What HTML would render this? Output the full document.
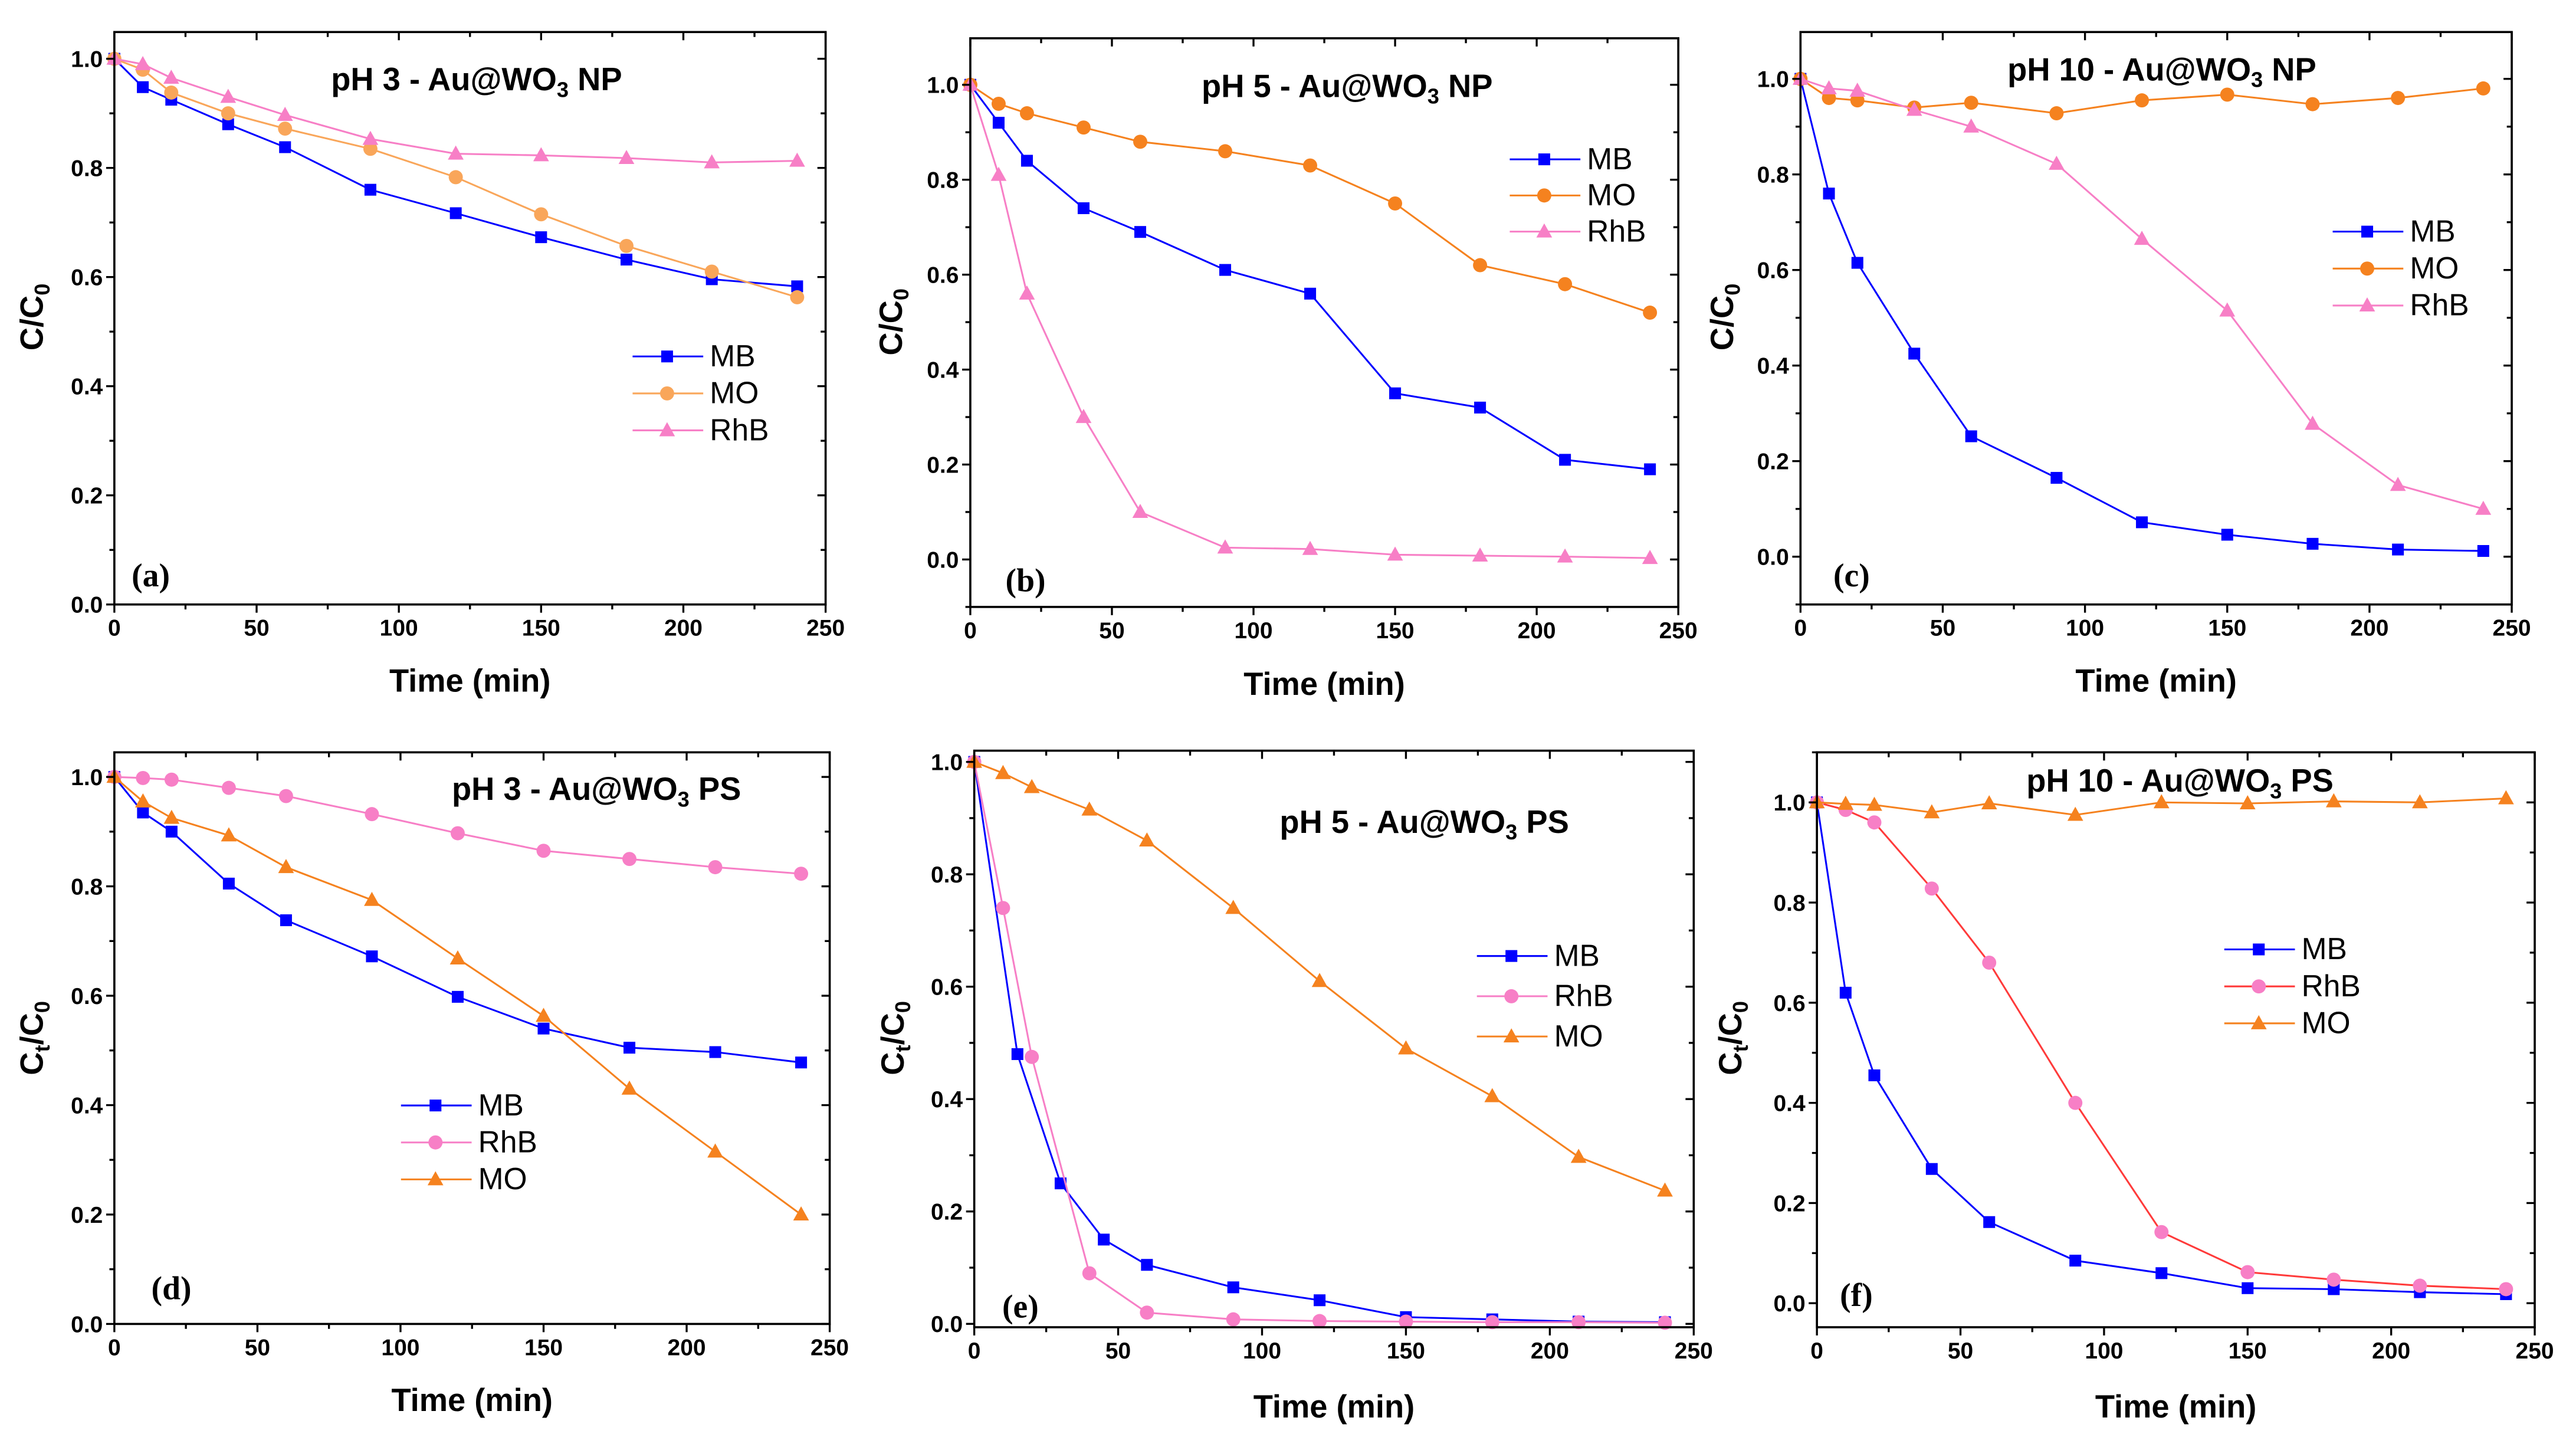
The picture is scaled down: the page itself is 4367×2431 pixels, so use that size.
<!DOCTYPE html>
<html><head><meta charset="utf-8"><style>
html,body{margin:0;padding:0;background:#fff;}
svg{display:block;}
</style></head><body>
<svg id="fig" xmlns="http://www.w3.org/2000/svg" width="4367" height="2431" viewBox="0 0 1568 873"></svg>
<script>
// ---- data ----
const timeStd = [0,10,20,40,60,90,120,150,180,210,240];
const timeMBe = [0,15,30,45,60,90,120,150,180,210,240];
const xTicks = [0,50,100,150,200,250];
const yTicks = [0.0,0.2,0.4,0.6,0.8,1.0];
const yTickLabels = ["0.0","0.2","0.4","0.6","0.8","1.0"];

const aMB  = [1,0.948,0.925,0.88,0.838,0.76,0.717,0.673,0.632,0.596,0.583];
const aMO  = [1,0.98,0.938,0.9,0.872,0.835,0.783,0.715,0.657,0.61,0.563];
const aRhB = [1,0.99,0.965,0.93,0.897,0.853,0.826,0.823,0.818,0.81,0.813];

const bMB  = [1,0.92,0.84,0.74,0.69,0.61,0.56,0.35,0.32,0.21,0.19];
const bMO  = [1,0.96,0.94,0.91,0.88,0.86,0.83,0.75,0.62,0.58,0.52];
const bRhB = [1,0.81,0.56,0.30,0.10,0.025,0.022,0.01,0.008,0.006,0.003];

const cMB  = [1,0.76,0.615,0.425,0.252,0.165,0.072,0.046,0.027,0.015,0.012];
const cMO  = [1,0.96,0.955,0.94,0.95,0.928,0.955,0.967,0.947,0.96,0.98];
const cRhB = [1,0.98,0.975,0.935,0.9,0.822,0.665,0.515,0.278,0.15,0.1];

const dMB  = [1,0.935,0.9,0.805,0.738,0.672,0.598,0.54,0.505,0.497,0.478];
const dRhB = [1,0.998,0.995,0.98,0.965,0.932,0.897,0.865,0.85,0.835,0.823];
const dMO  = [1,0.955,0.925,0.893,0.835,0.775,0.668,0.563,0.43,0.315,0.2];

const eMB  = [1,0.48,0.25,0.15,0.105,0.065,0.042,0.012,0.008,0.004,0.003];
const eRhB = [1,0.74,0.475,0.09,0.02,0.008,0.005,0.004,0.003,0.003,0.002];
const eMO  = [1,0.98,0.955,0.915,0.86,0.74,0.61,0.49,0.405,0.297,0.237];

const fMB  = [1,0.62,0.455,0.268,0.162,0.085,0.06,0.03,0.028,0.022,0.018];
const fRhB = [1,0.985,0.96,0.828,0.68,0.4,0.142,0.062,0.047,0.035,0.028];
const fMO  = [1,0.997,0.995,0.98,0.998,0.975,1.0,0.998,1.002,1.0,1.008];

const NS = "http://www.w3.org/2000/svg";
const svg = document.getElementById('fig');
function mk(tag, attrs, parent){const e=document.createElementNS(NS,tag);for(const k in attrs)e.setAttribute(k,attrs[k]);(parent||svg).appendChild(e);return e;}
const TF = '"Liberation Sans Narrow","Liberation Sans",sans-serif';

const BLUE="#0000ff", PINK="#f77fc6", ORANGE="#f5821f", LORANGE="#f9a65a", RED="#ff3a3a";

const panels = [
 {id:'a',L:69.5,R:502.5,T:19.5,B:368,ymin:0,ymax:1.049,title:'pH 3 - Au@WO',tsuf:' NP',tx:290,ty:55,lab:'(a)',lx:80,ly:357,ylab:'C/C',ylx:26,yly:193,xly:421,
  series:[{n:'MB',x:timeStd,y:aMB,c:BLUE,mc:BLUE,m:'sq'},{n:'MO',x:timeStd,y:aMO,c:LORANGE,mc:LORANGE,m:'ci'},{n:'RhB',x:timeStd,y:aRhB,c:PINK,mc:PINK,m:'tr'}],
  leg:{x:406,y:217,dy:22.5}},
 {id:'b',L:590.6,R:1021.6,T:23.3,B:369.5,ymin:-0.1,ymax:1.098,title:'pH 5 - Au@WO',tsuf:' NP',tx:820,ty:59,lab:'(b)',lx:612,ly:360,ylab:'C/C',ylx:549,yly:196,xly:423,
  series:[{n:'MB',x:timeStd,y:bMB,c:BLUE,mc:BLUE,m:'sq'},{n:'MO',x:timeStd,y:bMO,c:ORANGE,mc:ORANGE,m:'ci'},{n:'RhB',x:timeStd,y:bRhB,c:PINK,mc:PINK,m:'tr'}],
  leg:{x:940,y:97,dy:22}},
 {id:'c',L:1096,R:1529,T:19.5,B:368,ymin:-0.1,ymax:1.098,title:'pH 10 - Au@WO',tsuf:' NP',tx:1316,ty:49,lab:'(c)',lx:1116,ly:357,ylab:'C/C',ylx:1055,yly:193,xly:421,
  series:[{n:'MB',x:timeStd,y:cMB,c:BLUE,mc:BLUE,m:'sq'},{n:'MO',x:timeStd,y:cMO,c:ORANGE,mc:ORANGE,m:'ci'},{n:'RhB',x:timeStd,y:cRhB,c:PINK,mc:PINK,m:'tr'}],
  leg:{x:1441,y:141,dy:22.5}},
 {id:'d',L:69.5,R:505,T:458,B:806,ymin:0,ymax:1.045,title:'pH 3 - Au@WO',tsuf:' PS',tx:363,ty:487,lab:'(d)',lx:92,ly:791,ylab:'Ct',ylx:26,yly:632,xly:859,
  series:[{n:'MB',x:timeStd,y:dMB,c:BLUE,mc:BLUE,m:'sq'},{n:'RhB',x:timeStd,y:dRhB,c:PINK,mc:PINK,m:'ci'},{n:'MO',x:timeStd,y:dMO,c:ORANGE,mc:ORANGE,m:'tr'}],
  leg:{x:265,y:673,dy:22.5}},
 {id:'e',L:593,R:1031,T:457,B:808,ymin:-0.006,ymax:1.02,title:'pH 5 - Au@WO',tsuf:' PS',tx:867,ty:507,lab:'(e)',lx:610,ly:802,ylab:'Ct',ylx:550,yly:632,xly:863,
  series:[{n:'MB',x:timeMBe,y:eMB,c:BLUE,mc:BLUE,m:'sq'},{n:'RhB',x:timeStd,y:eRhB,c:PINK,mc:PINK,m:'ci'},{n:'MO',x:timeStd,y:eMO,c:ORANGE,mc:ORANGE,m:'tr'}],
  leg:{x:920,y:582,dy:24.5}},
 {id:'f',L:1106,R:1543,T:458,B:808,ymin:-0.048,ymax:1.10,title:'pH 10 - Au@WO',tsuf:' PS',tx:1327,ty:482,lab:'(f)',lx:1120,ly:795,ylab:'Ct',ylx:1060,yly:632,xly:863,
  series:[{n:'MB',x:timeStd,y:fMB,c:BLUE,mc:BLUE,m:'sq'},{n:'RhB',x:timeStd,y:fRhB,c:RED,mc:PINK,m:'ci'},{n:'MO',x:timeStd,y:fMO,c:ORANGE,mc:ORANGE,m:'tr'}],
  leg:{x:1375,y:578,dy:22.5}}
];

function marker(g,type,cx,cy,col){
  let e;
  if(type==='sq') e=mk('rect',{x:cx-3.6,y:cy-3.6,width:7.2,height:7.2,fill:col},g);
  else if(type==='ci') e=mk('circle',{cx:cx,cy:cy,r:4.3,fill:col},g);
  else e=mk('polygon',{points:`${cx},${cy-5} ${cx-4.8},${cy+3.6} ${cx+4.8},${cy+3.6}`,fill:col},g);
  return e;
}

panels.forEach(p=>{
  const g=mk('g',{});
  
  
  const sx=v=>p.L+(v-0)/(250-0)*(p.R-p.L);
  const sy=v=>p.B-(v-p.ymin)/(p.ymax-p.ymin)*(p.B-p.T);
  p.series.forEach(s=>{
    const sg=mk('g',{},g);
    
    
    const pts=s.x.map((x,i)=>sx(x).toFixed(2)+','+sy(s.y[i]).toFixed(2)).join(' ');
    const pl=mk('polyline',{points:pts,fill:'none',stroke:s.c,'stroke-width':1.1},sg);
    
    
    s.x.forEach((x,i)=>{
      const m=marker(sg,s.m,sx(x),sy(s.y[i]),s.mc);
      
      
    });
  });
  const fr=mk('rect',{x:p.L,y:p.T,width:p.R-p.L,height:p.B-p.T,fill:'none',stroke:'#000','stroke-width':1.3},g);
  
  
  const ax=mk('g',{},g);
  
  
  for(let v=0;v<=250;v+=25){
    const maj=v%50===0, len=maj?5:3, X=sx(v);
    mk('line',{x1:X,y1:p.B,x2:X,y2:p.B+len,stroke:'#000','stroke-width':1.2},ax);
    mk('line',{x1:X,y1:p.T,x2:X,y2:p.T+len,stroke:'#000','stroke-width':1.2},ax);
  }
  xTicks.forEach(v=>{
    const t=mk('text',{x:sx(v),y:p.B+19,'text-anchor':'middle','font-family':TF,'font-weight':'bold','font-size':14},ax);
    t.textContent=String(v);
    
    
  });
  const xt=mk('text',{x:(p.L+p.R)/2,y:p.xly,'text-anchor':'middle','font-family':TF,'font-weight':'bold','font-size':19.5},g);
  xt.textContent='Time (min)';
  
  
  const ay=mk('g',{},g);
  
  
  for(let k=-1;k<=11;k++){
    const v=k/10; if(v<p.ymin-1e-6||v>p.ymax+1e-6) continue;
    const maj=k%2===0, len=maj?5:3, Y=sy(v);
    mk('line',{x1:p.L-len,y1:Y,x2:p.L,y2:Y,stroke:'#000','stroke-width':1.2},ay);
    mk('line',{x1:p.R-len,y1:Y,x2:p.R,y2:Y,stroke:'#000','stroke-width':1.2},ay);
  }
  yTicks.forEach((v,i)=>{
    const t=mk('text',{x:p.L-7,y:sy(v)+5,'text-anchor':'end','font-family':TF,'font-weight':'bold','font-size':14},ay);
    t.textContent=yTickLabels[i];
    
    
  });
  const yt=mk('text',{transform:`translate(${p.ylx},${p.yly}) rotate(-90)`,'text-anchor':'middle','font-family':TF,'font-weight':'bold','font-size':19.5},g);
  
  
  if(p.ylab==='Ct'){
    yt.innerHTML='C<tspan font-size="13" dy="4">t</tspan><tspan dy="-4">/C</tspan><tspan font-size="13" dy="4">0</tspan>';
  } else {
    yt.innerHTML='C/C<tspan font-size="13" dy="4">0</tspan>';
  }
  const tt=mk('text',{x:p.tx,y:p.ty,'text-anchor':'middle','font-family':TF,'font-weight':'bold','font-size':19.5},g);
  tt.innerHTML=p.title+'<tspan font-size="13" dy="4">3</tspan><tspan dy="-4">'+p.tsuf+'</tspan>';
  
  
  const pl=mk('text',{x:p.lx,y:p.ly,'font-family':'"Liberation Serif",serif','font-weight':'bold','font-size':20},g);
  pl.textContent=p.lab;
  
  
  const lg=mk('g',{},g);
  
  
  p.series.forEach((s,i)=>{
    const y=p.leg.y+i*p.leg.dy, x=p.leg.x;
    const e=mk('g',{},lg);
    
    
    mk('line',{x1:x-21,y1:y,x2:x+22,y2:y,stroke:s.c,'stroke-width':1.1},e);
    marker(e,s.m,x,y,s.mc);
    const t=mk('text',{x:x+26,y:y+6,'font-family':TF,'font-size':18.5},e);
    t.textContent=s.n;
  });
});
</script>
</body></html>
